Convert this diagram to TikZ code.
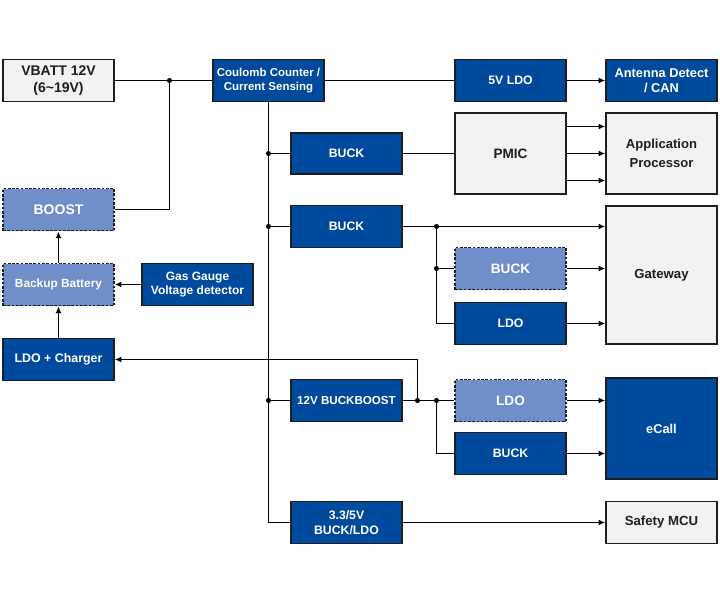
\documentclass[tikz,border=0pt]{standalone}
\usepackage{fontspec}
\setmainfont{Liberation Sans}
\usetikzlibrary{arrows.meta}

\definecolor{dkblue}{RGB}{0,74,157}
\definecolor{ltblue}{RGB}{112,142,200}
\definecolor{ltgray}{RGB}{242,242,242}
\definecolor{edge}{RGB}{30,30,30}

\tikzset{every picture/.style={line width=1pt}}
\tikzset{
  blk/.style={draw=edge, line width=1.4pt, fill=dkblue, text=white, font=\bfseries\fontsize{9.2}{11}\selectfont, align=center, inner sep=0pt, minimum width=83pt, minimum height=31.5pt},
  gblk/.style={blk, fill=ltgray, text=edge},
  lblk/.style={blk, fill=ltblue, dash pattern=on 2pt off 1.2pt},
  arr/.style={-{Latex[length=5pt,width=4.5pt]}},
  jdot/.style={fill=black}
}

\begin{document}
\begin{tikzpicture}[x=0.75pt,y=0.75pt,yscale=-1,xscale=1]
	\useasboundingbox (0,0) rectangle (720,600);

	%Shape: Rectangle -- left column
	\node [gblk, font=\bfseries\fontsize{10.5}{12.5}\selectfont] (vbatt) at (58.5,80.5) {VBATT 12V\\(6\textasciitilde19V)};
	\node [lblk, font=\bfseries\fontsize{10.5}{12}\selectfont] (boost) at (58.5,209.5) {BOOST};
	\node [lblk, font=\bfseries\fontsize{8.9}{10}\selectfont] (backup) at (58.5,284.5) {Backup Battery};
	\node [blk, font=\bfseries\fontsize{9.3}{11}\selectfont] (charger) at (58.5,359.5) {LDO + Charger};
	\node [blk, font=\bfseries\fontsize{9}{11}\selectfont] (gasgauge) at (197.5,284.5) {Gas Gauge\\Voltage detector};

	%Shape: Rectangle -- second column
	\node [blk, font=\bfseries\fontsize{8.6}{11}\selectfont] (coulomb) at (268.5,80.5) {Coulomb Counter /\\Current Sensing};
	\node [blk, minimum height=30.75pt] (bucka) at (346.5,153.5) {BUCK};
	\node [blk] (buckb) at (346.5,226.5) {BUCK};
	\node [blk, font=\bfseries\fontsize{8.7}{10}\selectfont] (buckboost) at (346.5,400.5) {12V BUCKBOOST};
	\node [blk, font=\bfseries\fontsize{9.2}{11.5}\selectfont] (buckldo) at (346.5,522.5) {3.3/5V\\BUCK/LDO};

	%Shape: Rectangle -- third column
	\node [blk] (ldofive) at (510.5,80.5) {5V LDO};
	\node [gblk, minimum height=60.75pt, font=\bfseries\fontsize{10.2}{12}\selectfont] (pmic) at (510.5,153.5) {PMIC};
	\node [lblk, font=\bfseries\fontsize{10.2}{12}\selectfont] (buckc) at (510.5,268.5) {BUCK};
	\node [blk] (ldoa) at (510.5,323.5) {LDO};
	\node [lblk, font=\bfseries\fontsize{10.2}{12}\selectfont] (ldob) at (510.5,400.5) {LDO};
	\node [blk] (buckd) at (510.5,453.5) {BUCK};

	%Shape: Rectangle -- loads
	\node [blk, font=\bfseries\fontsize{9.6}{11.5}\selectfont] (antenna) at (661.5,80.5) {Antenna Detect\\/ CAN};
	\node [gblk, minimum height=60.75pt, font=\bfseries\fontsize{9.8}{14}\selectfont] (appproc) at (661.5,153.5) {Application\\Processor};
	\node [gblk, minimum height=103.5pt, font=\bfseries\fontsize{9.9}{12}\selectfont] (gateway) at (661.5,275) {Gateway};
	\node [blk, minimum height=75.75pt, font=\bfseries\fontsize{9.6}{12}\selectfont] (ecall) at (661.5,428.5) {eCall};
	\node [gblk, font=\bfseries\fontsize{9.9}{12}\selectfont] (safety) at (661.5,522.5) {Safety MCU};

	%Junctions
	\coordinate (jin) at (169.5,80.5);
	\coordinate (ja) at (268.5,153.5);
	\coordinate (jb) at (268.5,226.5);
	\coordinate (jc) at (268.5,400.5);
	\coordinate (jd) at (436.5,226.5);
	\coordinate (je) at (436.5,268.5);
	\coordinate (jf) at (417.5,400.5);
	\coordinate (jg) at (436.5,400.5);

	%Straight Lines -- input
	\draw (vbatt.east) -- (coulomb.west);
	\draw (jin) |- (boost.east);
	\draw (coulomb.east) -- (ldofive.west);
	\draw [arr] (ldofive.east) -- (antenna.west);
	\draw (coulomb.south) |- (buckldo.west);

	%Straight Lines -- backup path
	\draw [arr] (gasgauge.west) -- (backup.east);
	\draw [arr] (charger.north) -- (backup.south);
	\draw [arr] (backup.north) -- (boost.south);

	%Straight Lines -- application processor
	\draw (ja) -- (bucka.west);
	\draw (bucka.east) -- (pmic.west);
	\draw [arr] ([yshift=20.25pt]pmic.east) -- ([yshift=20.25pt]appproc.west);
	\draw [arr] (pmic.east) -- (appproc.west);
	\draw [arr] ([yshift=-20.25pt]pmic.east) -- ([yshift=-20.25pt]appproc.west);

	%Straight Lines -- gateway
	\draw (jb) -- (buckb.west);
	\draw [arr] (buckb.east) -- (buckb.east -| gateway.west);
	\draw (jd) |- (ldoa.west);
	\draw (je) -- (buckc.west);
	\draw [arr] (buckc.east) -- (buckc.east -| gateway.west);
	\draw [arr] (ldoa.east) -- (ldoa.east -| gateway.west);

	%Straight Lines -- eCall
	\draw (jc) -- (buckboost.west);
	\draw (buckboost.east) -- (ldob.west);
	\draw [arr] (jf) |- (charger.east);
	\draw (jg) |- (buckd.west);
	\draw [arr] (ldob.east) -- (ldob.east -| ecall.west);
	\draw [arr] (buckd.east) -- (buckd.east -| ecall.west);

	%Straight Lines -- safety
	\draw [arr] (buckldo.east) -- (safety.west);

	%Shape: Circle
	\foreach \j in {jin,ja,jb,jc,jd,je,jf,jg}
		\fill [jdot] (\j) circle (1.9pt);

\end{tikzpicture}
\end{document}
